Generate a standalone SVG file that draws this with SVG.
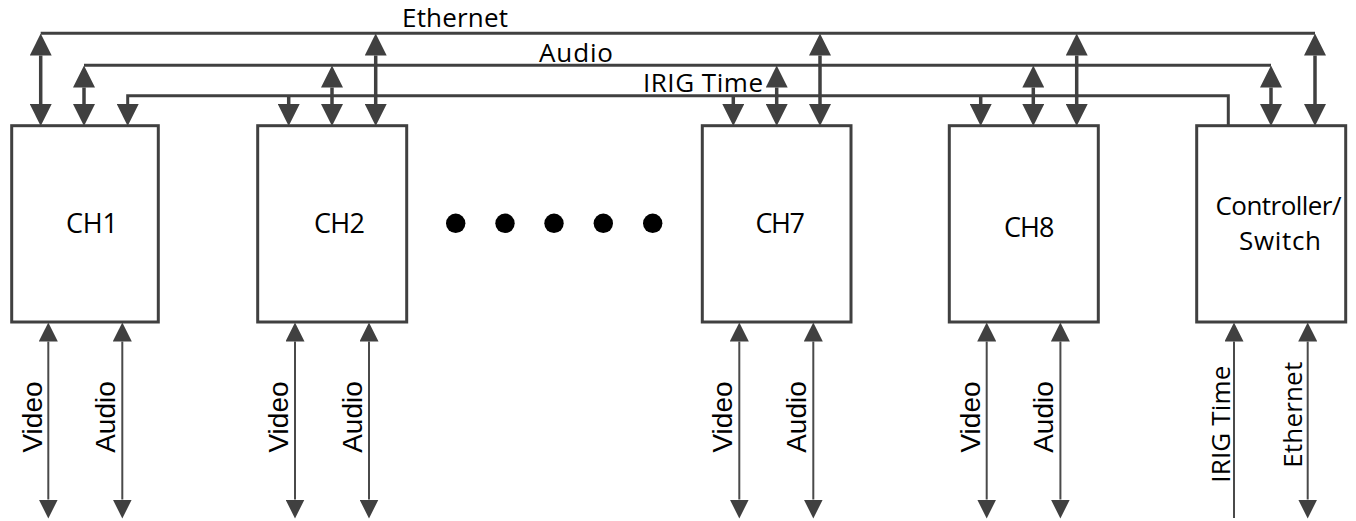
<svg xmlns="http://www.w3.org/2000/svg" width="1356" height="521" viewBox="0 0 1356 521">
<style>
.box{fill:#fff;stroke:#404040;stroke-width:3}
.bus{fill:none;stroke:#404040;stroke-width:3}
.arr{fill:none;stroke:#404040;stroke-width:3.5}
.thin{fill:none;stroke:#4a4a4a;stroke-width:2}
.cal{font-family:"Open Sans","Noto Sans",sans-serif;fill:#000}
.ari{font-family:"Liberation Sans",Arial,sans-serif;font-size:28px;fill:#000}
</style>
<defs>
<marker id="ah" markerUnits="userSpaceOnUse" markerWidth="22" markerHeight="22" viewBox="0 0 21 21" refX="0" refY="10.5" orient="auto-start-reverse"><path d="M0,0 L21,10.5 L0,21 Z" fill="#404040"/></marker>
<marker id="as" markerUnits="userSpaceOnUse" markerWidth="19" markerHeight="19" viewBox="0 0 18 18" refX="0" refY="9" orient="auto-start-reverse"><path d="M0,0 L18,9 L0,18 Z" fill="#404040"/></marker>
</defs>
<rect width="1356" height="521" fill="#fff"/>
<g id="connectors">
<path class="bus" d="M40.7,33.3 H1315"/>
<path class="bus" d="M84,65.3 H1271"/>
<path class="bus" d="M127.7,104 V95.7 H1228.3 V125" marker-start="url(#ah)"/>
<!-- CH1 -->
<path class="arr" d="M40.7,55.5 V104" marker-start="url(#ah)" marker-end="url(#ah)"/>
<path class="arr" d="M84,87.5 V104" marker-start="url(#ah)" marker-end="url(#ah)"/>
<!-- CH2 -->
<path class="arr" d="M288.7,95.7 V104" marker-end="url(#ah)"/>
<path class="arr" d="M332,87.5 V104" marker-start="url(#ah)" marker-end="url(#ah)"/>
<path class="arr" d="M375.7,55.5 V104" marker-start="url(#ah)" marker-end="url(#ah)"/>
<!-- CH7 -->
<path class="arr" d="M733.3,95.7 V104" marker-end="url(#ah)"/>
<path class="arr" d="M776.7,87.5 V104" marker-start="url(#ah)" marker-end="url(#ah)"/>
<path class="arr" d="M820,55.5 V104" marker-start="url(#ah)" marker-end="url(#ah)"/>
<!-- CH8 -->
<path class="arr" d="M980.7,95.7 V104" marker-end="url(#ah)"/>
<path class="arr" d="M1033.3,87.5 V104" marker-start="url(#ah)" marker-end="url(#ah)"/>
<path class="arr" d="M1076.7,55.5 V104" marker-start="url(#ah)" marker-end="url(#ah)"/>
<!-- Controller -->
<path class="arr" d="M1271,87.5 V104" marker-start="url(#ah)" marker-end="url(#ah)"/>
<path class="arr" d="M1315,55.5 V104" marker-start="url(#ah)" marker-end="url(#ah)"/>
<!-- bottom -->
<path class="thin" d="M48.3,341.5 V499.5" marker-start="url(#as)" marker-end="url(#as)"/>
<path class="thin" d="M122.3,341.5 V499.5" marker-start="url(#as)" marker-end="url(#as)"/>
<path class="thin" d="M295,341.5 V499.5" marker-start="url(#as)" marker-end="url(#as)"/>
<path class="thin" d="M369,341.5 V499.5" marker-start="url(#as)" marker-end="url(#as)"/>
<path class="thin" d="M739.3,341.5 V499.5" marker-start="url(#as)" marker-end="url(#as)"/>
<path class="thin" d="M813.3,341.5 V499.5" marker-start="url(#as)" marker-end="url(#as)"/>
<path class="thin" d="M986.7,341.5 V499.5" marker-start="url(#as)" marker-end="url(#as)"/>
<path class="thin" d="M1060.4,341.5 V499.5" marker-start="url(#as)" marker-end="url(#as)"/>
<path class="thin" d="M1234,341.5 V518" marker-start="url(#as)"/>
<path class="thin" d="M1307.7,341.5 V499.5" marker-start="url(#as)" marker-end="url(#as)"/>
<!-- labels -->
<text class="cal" x="402" y="27.3" font-size="26" textLength="106">Ethernet</text>
<text class="cal" x="539" y="62" font-size="26" textLength="74">Audio</text>
<text class="cal" x="643" y="91.7" font-size="26" textLength="120">IRIG Time</text>
<text class="ari" text-anchor="middle" transform="translate(41.7,417) rotate(-90)">Video</text>
<text class="ari" text-anchor="middle" transform="translate(115,417) rotate(-90)">Audio</text>
<text class="ari" text-anchor="middle" transform="translate(287.5,417) rotate(-90)">Video</text>
<text class="ari" text-anchor="middle" transform="translate(361.7,417) rotate(-90)">Audio</text>
<text class="ari" text-anchor="middle" transform="translate(731.7,417) rotate(-90)">Video</text>
<text class="ari" text-anchor="middle" transform="translate(806,417) rotate(-90)">Audio</text>
<text class="ari" text-anchor="middle" transform="translate(980,417) rotate(-90)">Video</text>
<text class="ari" text-anchor="middle" transform="translate(1053,417) rotate(-90)">Audio</text>
<text class="cal" font-size="26" text-anchor="middle" textLength="117" transform="translate(1230,424.2) rotate(-90)">IRIG Time</text>
<text class="cal" font-size="26" text-anchor="middle" textLength="106" transform="translate(1301.7,414.8) rotate(-90)">Ethernet</text>
</g>
<g id="ch1"><rect class="box" x="11.7" y="125.7" width="146.6" height="196.3"/><text class="cal" x="66" y="233.3" font-size="27" textLength="52">CH1</text></g>
<g id="ch2"><rect class="box" x="257.7" y="125.7" width="149" height="196.3"/><text class="cal" x="314" y="233.3" font-size="27" textLength="51">CH2</text></g>
<g id="dots" fill="#000"><circle cx="455.7" cy="223.3" r="9.7"/><circle cx="505" cy="223.3" r="9.7"/><circle cx="554" cy="223.3" r="9.7"/><circle cx="603.3" cy="223.3" r="9.7"/><circle cx="652.7" cy="223.3" r="9.7"/></g>
<g id="ch7"><rect class="box" x="702.3" y="125.7" width="148.7" height="196.3"/><text class="cal" x="755.5" y="233.3" font-size="27" textLength="49.5">CH7</text></g>
<g id="ch8"><rect class="box" x="949.3" y="125.7" width="149" height="196.3"/><text class="cal" x="1004" y="236.7" font-size="27" textLength="50.5">CH8</text></g>
<g id="controller"><rect class="box" x="1196.7" y="125.7" width="149" height="196.3"/><text class="cal" x="1215.5" y="215" font-size="26" textLength="126">Controller/</text><text class="cal" x="1239" y="250" font-size="26" textLength="82">Switch</text></g>
</svg>
